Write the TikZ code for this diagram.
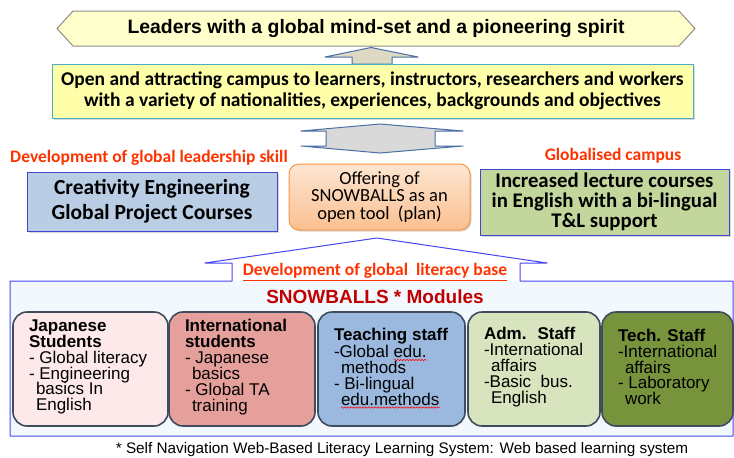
\documentclass[tikz,border=0pt]{standalone}
\usepackage{fontspec}
\setmainfont{Liberation Sans}
\newfontfamily\calib{Carlito}
\usetikzlibrary{positioning, backgrounds, shadows, decorations.pathmorphing}

\definecolor{bannerfill}{HTML}{FFFFCC}
\definecolor{banneredge}{HTML}{8C8C8C}
\definecolor{campusfill}{HTML}{FFFFAA}
\definecolor{campusedge}{HTML}{4BACC6}
\definecolor{arwedge}{HTML}{4A6FA5}
\definecolor{tanfill}{HTML}{DDD9C3}
\definecolor{greyfill}{HTML}{D9D9D9}
\definecolor{lblred}{HTML}{FF3300}
\definecolor{darkred}{HTML}{C00000}
\definecolor{creafill}{HTML}{B9CDE5}
\definecolor{boxblue}{HTML}{3C46D0}
\definecolor{offertop}{HTML}{FDE5D1}
\definecolor{offerbot}{HTML}{FAC090}
\definecolor{offeredge}{HTML}{F79646}
\definecolor{lectfill}{HTML}{C3D69B}
\definecolor{basefill}{HTML}{F2F8FD}
\definecolor{baseedge}{HTML}{4646F5}
\definecolor{modedge}{HTML}{3E4C5E}
\definecolor{jpfill}{HTML}{FDE9E9}
\definecolor{intfill}{HTML}{E6A09C}
\definecolor{teachfill}{HTML}{9BB9DF}
\definecolor{admfill}{HTML}{D7E4BD}
\definecolor{techfill}{HTML}{77933C}

\newcommand\fsz[2]{\fontsize{#1}{#2}\selectfont}
\newcommand\indt{\hspace*{7pt}}

\begin{document}
\begin{tikzpicture}[
    x=1pt, y=-1pt,
    every node/.style={inner sep=0pt, outer sep=0pt},
    boxshadow/.style={drop shadow={shadow xshift=1.5pt, shadow yshift=-1.5pt, opacity=.3}},
    blockarrow/.style={draw=arwedge, line width=1pt, line join=round},
    redlbl/.style={text=lblred, font=\calib\bfseries\fsz{17.5}{20}},
    sqbox/.style={draw=boxblue, line width=1pt, boxshadow, align=center, font=\calib\bfseries\fsz{20.8}{20}},
    module/.style={draw=modedge, line width=1.6pt, rounded corners=14pt, minimum height=114pt},
    modtxt/.style={anchor=west, align=left, font=\fsz{17}{15.9}},
    wavy/.style={draw=red, line width=.5pt, decorate, decoration={snake, amplitude=.7pt, segment length=3pt}},
]
\useasboundingbox (0,0) rectangle (734,458);

\node[font=\bfseries\fsz{19.4}{22}, minimum width=606pt, minimum height=35pt] (lead) at (376,28.5)
    {Leaders with a global mind-set and a pioneering spirit};
\begin{scope}[on background layer]
    \fill[white] (0,0) rectangle (734,458);
    \filldraw[fill=bannerfill, draw=banneredge, line width=1pt] (lead.north west) -- (lead.north east)
        -- ([xshift=16pt]lead.east) -- (lead.south east) -- (lead.south west) -- ([xshift=-16pt]lead.west) -- cycle;
\end{scope}

\filldraw[blockarrow, fill=tanfill] (352,64) -- (352,57) -- (325,57) -- (371,47.5) -- (418,57) -- (392,57) -- (392,64) -- cycle;

\node[draw=campusedge, fill=campusfill, line width=1pt, boxshadow, minimum width=641pt, minimum height=54pt,
    align=center, font=\calib\bfseries\fsz{19.5}{21.5}] (campus) at (372.5,91)
    {Open and attracting campus to learners, instructors, researchers and workers\\
     with a variety of nationalities, experiences, backgrounds and objectives};

\filldraw[blockarrow, fill=greyfill] (380,124) -- (463,131) -- (435,131) -- (435,146) -- (463,146) -- (380,153)
    -- (301,146) -- (326,146) -- (326,131) -- (301,131) -- cycle;

\node[redlbl] (skilllbl) at (149,158) {Development of global leadership skill};
\node[redlbl] (globlbl) at (613,156) {Globalised campus};

\node[sqbox, fill=creafill, minimum width=250pt, minimum height=59pt, font=\calib\bfseries\fsz{21.5}{25}] (crea) at (152,201.5)
    {Creativity Engineering\\Global Project Courses};
\node[draw=offeredge, line width=1pt, rounded corners=10pt, top color=offertop, bottom color=offerbot, boxshadow,
    minimum width=181pt, minimum height=66pt, align=center, font=\calib\fsz{18.5}{17.2}] (offer) at (379.5,197)
    {Offering of\\SNOWBALLS as an\\open tool~~(plan)};
\node[sqbox, fill=lectfill, minimum width=249pt, minimum height=66pt] (lect) at (604.5,202)
    {Increased lecture courses\\in English with a bi-lingual\\T\&L support};

\fill[basefill] (10,281) rectangle (733,436);
\fill[white] (232,281) -- (232,263) -- (205,263) -- (377,238) -- (547,263) -- (520,263) -- (520,281) -- cycle;
\draw[baseedge, line width=1pt, line join=round] (10,281) -- (232,281) -- (232,263) -- (205,263) -- (377,238)
    -- (547,263) -- (520,263) -- (520,281) -- (733,281) -- (733,436) -- (10,436) -- cycle;

\node[redlbl] (litlbl) at (375,272) {\underline{Development of global~ literacy base}};
\node[text=darkred, font=\bfseries\fsz{19}{22}] (snow) at (375,297) {SNOWBALLS * Modules};

\node[module, fill=jpfill, minimum width=155pt] (jp) at (90.5,369) {};
\node[module, fill=intfill, minimum width=146pt] (intl) at (242,369) {};
\node[module, fill=teachfill, minimum width=147pt] (teach) at (391.5,369) {};
\node[module, fill=admfill, minimum width=132pt] (adm) at (534,369) {};
\node[module, fill=techfill, minimum width=131pt] (tech) at (667.5,369) {};

\node[modtxt, right=16pt of jp.west, yshift=2pt] (jptxt)
    {\textbf{Japanese}\\\textbf{Students}\\- Global literacy\\- Engineering\\\indt basics In\\\indt English};
\node[modtxt, right=16pt of intl.west, yshift=2pt] (intltxt)
    {\textbf{International}\\\textbf{students}\\- Japanese\\\indt basics\\- Global TA\\\indt training};
\node[modtxt, right=16pt of teach.west, yshift=2pt] (teachtxt)
    {\textbf{Teaching staff}\\-Global edu.\\\indt methods\\- Bi-lingual\\\indt edu.methods};
\node[modtxt, right=16pt of adm.west, yshift=2pt] (admtxt)
    {\textbf{Adm.~ Staff}\\-International\\\indt affairs\\-Basic~ bus.\\\indt English};
\node[modtxt, right=16pt of tech.west, yshift=2pt] (techtxt)
    {\textbf{Tech. Staff}\\-International\\\indt affairs\\- Laboratory\\\indt work};

% spell-check squiggles under edu.
\draw[wavy] (394,360) -- (427,360);
\draw[wavy] (341,407.5) -- (440,407.5);

\node[font=\fsz{15.3}{17}] (foot) at (402,450)
    {* Self Navigation Web-Based Literacy Learning System: Web based learning system};
\end{tikzpicture}
\end{document}
